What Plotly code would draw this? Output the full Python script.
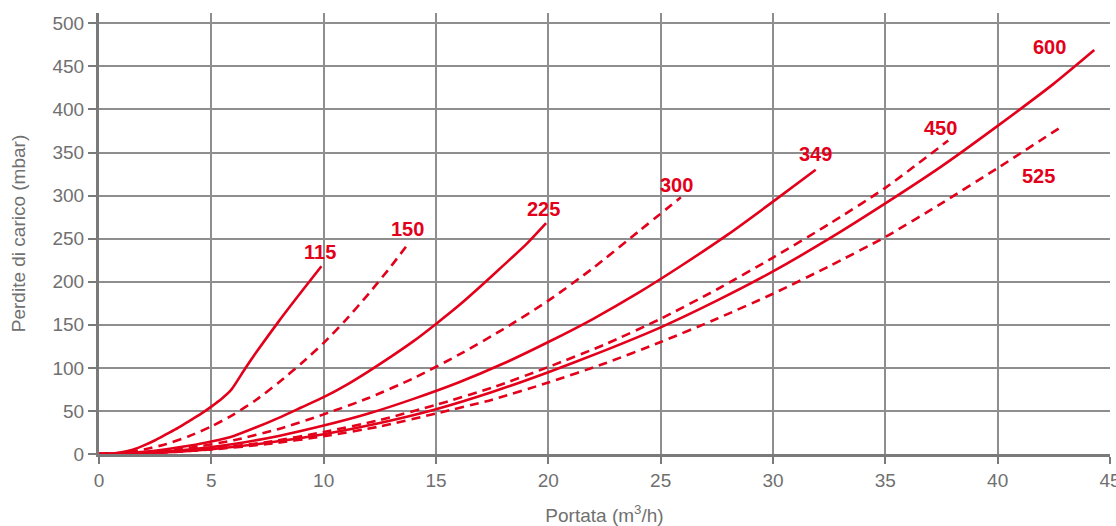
import plotly.graph_objects as go

# Pressure-drop curves (mbar) versus flow rate (m3/h), one series per model
x_115 = [0, 0.5, 1, 1.5, 2, 2.5, 3, 3.5, 4, 4.5, 5, 5.5, 5.9, 6.5, 7, 8, 9, 9.9]
y_115 = [0, 0.3, 2, 5, 10, 16, 23, 30, 38, 46, 55, 65, 75, 99, 118, 154, 188, 218]

x_150 = [0, 1, 2, 3, 4, 5, 6, 7, 8, 9, 10, 11, 12, 13, 13.7]
y_150 = [0, 1.3, 5.2, 11.6, 20.6, 32, 46, 63, 83, 105, 129, 156, 186, 218, 242]

x_225 = [0, 1, 2, 3, 4, 5, 6, 7, 8, 9, 10, 11, 12, 13, 14, 15, 16, 17, 18, 19, 19.9]
y_225 = [0, 0.6, 2.5, 5.5, 9.5, 14.5, 21, 31, 42, 54, 66, 80, 96, 113, 131, 151, 172, 195, 219, 243, 268]

x_300 = [0, 2, 4, 6, 8, 10, 12, 14, 16, 18, 20, 22, 24, 25.9]
y_300 = [0, 1.8, 7, 16, 29, 46, 65, 88, 115, 145, 178, 216, 258, 298]

x_349 = [0, 2, 4, 6, 8, 10, 12, 14, 16, 18, 20, 22, 24, 26, 28, 30, 31.9]
y_349 = [0, 1.3, 5.2, 11.7, 21, 33, 47, 64, 83, 105, 130, 157, 187, 220, 255, 293, 330]

x_450 = [0, 2.5, 5, 7.5, 10, 12.5, 15, 17.5, 20, 22.5, 25, 27.5, 30, 32.5, 35, 37.8]
y_450 = [0, 1.6, 6.3, 14, 25.5, 39.5, 57, 77, 101, 127, 157, 191, 228, 267, 309, 364]

x_525 = [0, 2.5, 5, 7.5, 10, 12.5, 15, 17.5, 20, 22.5, 25, 27.5, 30, 32.5, 35, 37.5, 40, 42.9]
y_525 = [0, 1.3, 5.2, 11.6, 20.5, 32, 47, 63, 83, 105, 130, 157, 186, 218, 252, 291, 332, 381]

x_600 = [0, 2.5, 5, 7.5, 10, 12.5, 15, 17.5, 20, 22.5, 25, 27.5, 30, 32.5, 35, 37.5, 40, 42.5, 44.3]
y_600 = [0, 1.4, 5.7, 13, 23, 36, 52, 72, 95, 120, 147, 178, 212, 250, 291, 334, 381, 430, 469]

series_names = ["115", "150", "225", "300", "349", "450", "525", "600"]
series_x = [x_115, x_150, x_225, x_300, x_349, x_450, x_525, x_600]
series_y = [y_115, y_150, y_225, y_300, y_349, y_450, y_525, y_600]
series_dashed = [False, True, False, True, False, True, True, False]

# Curve label anchor points (data coordinates)
label_x = [9.84, 13.71, 19.77, 25.7, 31.9, 37.44, 41.8, 42.3]
label_y = [235, 261, 284, 312, 348, 378, 323, 472]

x_ticks = [0, 5, 10, 15, 20, 25, 30, 35, 40, 45]
y_ticks = [0, 50, 100, 150, 200, 250, 300, 350, 400, 450, 500]

RED = "#e3001b"
GRAY_TEXT = "#707070"
GRID = "#8e8e8e"
AXIS = "#7a7a7a"
FONT = "Liberation Sans, Arial, sans-serif"

fig = go.Figure()
for name, xs, ys, dashed in zip(series_names, series_x, series_y, series_dashed):
    fig.add_trace(go.Scatter(
        x=xs, y=ys, mode="lines", name=name,
        line=dict(color=RED, width=2.6, shape="spline", smoothing=0.6,
                  dash="9px,6px" if dashed else "solid"),
        hoverinfo="skip", showlegend=False,
    ))

for name, lx, ly in zip(series_names, label_x, label_y):
    fig.add_annotation(x=lx, y=ly, text=name, showarrow=False,
                       font=dict(family=FONT, size=20, color=RED, weight="bold"),
                       xanchor="center", yanchor="middle")

fig.update_layout(
    width=1116, height=526,
    margin=dict(l=99, r=6, t=13, b=72, autoexpand=False),
    paper_bgcolor="white", plot_bgcolor="white",
    font=dict(family=FONT, color=GRAY_TEXT, size=19),
)
fig.update_xaxes(
    range=[0, 45], tickvals=x_ticks, ticktext=[str(v) for v in x_ticks],
    showgrid=True, gridcolor=GRID, gridwidth=1.5,
    showline=True, linecolor=AXIS, linewidth=3,
    ticks="outside", ticklen=7, tickwidth=1.5, tickcolor=AXIS,
    tickfont=dict(size=19, color=GRAY_TEXT), ticklabeloverflow="allow",
    automargin=False,
    title=dict(text="Portata (m<sup>3</sup>/h)", font=dict(size=19, color=GRAY_TEXT), standoff=22),
    zeroline=False,
)
fig.update_yaxes(
    range=[0, 512], tickvals=y_ticks, ticktext=[str(v) for v in y_ticks],
    showgrid=True, gridcolor=GRID, gridwidth=1.5,
    showline=True, linecolor=AXIS, linewidth=3,
    ticks="outside", ticklen=8, tickwidth=1.5, tickcolor=AXIS,
    tickfont=dict(size=19, color=GRAY_TEXT), automargin=False,
    title=dict(text="Perdite di carico (mbar)", font=dict(size=19, color=GRAY_TEXT), standoff=22),
    zeroline=False,
)

fig.write_html("out.html")
